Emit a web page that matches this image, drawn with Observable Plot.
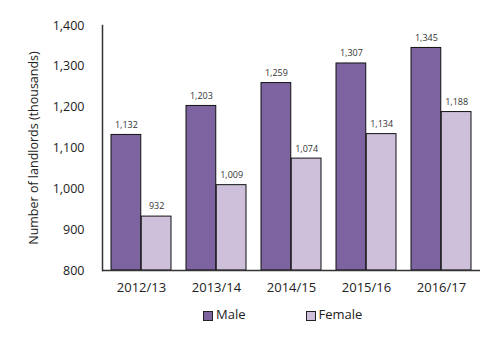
<!DOCTYPE html>
<html>
<head>
<meta charset="utf-8">
<script src="https://cdn.jsdelivr.net/npm/d3@7"></script>
<script src="https://cdn.jsdelivr.net/npm/@observablehq/plot@0.6"></script>
<style>
  body { margin: 0; background: #fff; font-family: "Open Sans", sans-serif; }
  #wrap { width: 496px; }
  .legend { display: flex; align-items: center; height: 18px; padding-left: 203px; margin-top: 5px; font-size: 13px; color: #222; }
  .item { display: flex; align-items: center; }
  .sw { width: 8px; height: 8px; border: 1px solid #222; margin-right: 3px; margin-top: 3px; }
</style>
</head>
<body>
<div id="wrap"></div>
<script>
const years = ["2012/13", "2013/14", "2014/15", "2015/16", "2016/17"];
const male = [1132, 1203, 1259, 1307, 1345];
const female = [932, 1009, 1074, 1134, 1188];
const series = ["Male", "Female"];
const colors = ["#7e63a1", "#cec0db"];
const yTicks = [800, 900, 1000, 1100, 1200, 1300, 1400];

const data = [];
years.forEach((y, i) => {
  data.push({year: y, sex: "Male", value: male[i]});
  data.push({year: y, sex: "Female", value: female[i]});
});

const width = 496, mL = 102, mR = 16;
const padIn = 0.2, padOut = 0.1;
const step = (width - mL - mR) / (years.length - padIn + 2 * padOut);
const bw = step * (1 - padIn);
const half = bw / 2;
const base = yTicks[0];

const fmt = d3.format(",");

const chart = Plot.plot({
  width, height: 300,
  marginLeft: mL, marginRight: mR, marginTop: 25, marginBottom: 30,
  style: {fontFamily: "Open Sans, sans-serif", fontSize: "12px", color: "#222"},
  x: {domain: years, paddingInner: padIn, paddingOuter: padOut},
  y: {domain: [yTicks[0], yTicks[yTicks.length - 1]]},
  color: {domain: series, range: colors},
  marks: [
    Plot.barY(data.filter(d => d.sex === "Male"), {x: "year", y1: () => base, y2: "value", fill: "sex", stroke: "#111", strokeWidth: 1, insetRight: half}),
    Plot.barY(data.filter(d => d.sex === "Female"), {x: "year", y1: () => base, y2: "value", fill: "sex", stroke: "#111", strokeWidth: 1, insetLeft: half}),
    Plot.text(data.filter(d => d.sex === "Male"), {x: "year", y: "value", text: d => fmt(d.value), dx: -half / 2, dy: -10, fontSize: 9, fill: "#333"}),
    Plot.text(data.filter(d => d.sex === "Female"), {x: "year", y: "value", text: d => fmt(d.value), dx: half / 2, dy: -10, fontSize: 9, fill: "#333"}),
    Plot.ruleY([base], {stroke: "#333", strokeWidth: 1.5}),
    Plot.frame({anchor: "left", stroke: "#333", strokeWidth: 1.5}),
    Plot.axisY({ticks: yTicks, tickFormat: fmt, tickSize: 0, tickPadding: 18, fontSize: 12.5,
      label: "Number of landlords (thousands)", labelAnchor: "center", labelArrow: "none", labelOffset: 73}),
    Plot.axisX({tickSize: 0, tickPadding: 12, fontSize: 13, label: null})
  ]
});
document.getElementById("wrap").appendChild(chart);

const legend = document.createElement("div");
legend.className = "legend";
series.forEach((s, i) => {
  const it = document.createElement("div");
  it.className = "item";
  if (i > 0) it.style.marginLeft = "60px";
  const sw = document.createElement("span");
  sw.className = "sw";
  sw.style.background = colors[i];
  const t = document.createElement("span");
  t.textContent = s;
  it.appendChild(sw); it.appendChild(t);
  legend.appendChild(it);
});
document.getElementById("wrap").appendChild(legend);
</script>
</body>
</html>
